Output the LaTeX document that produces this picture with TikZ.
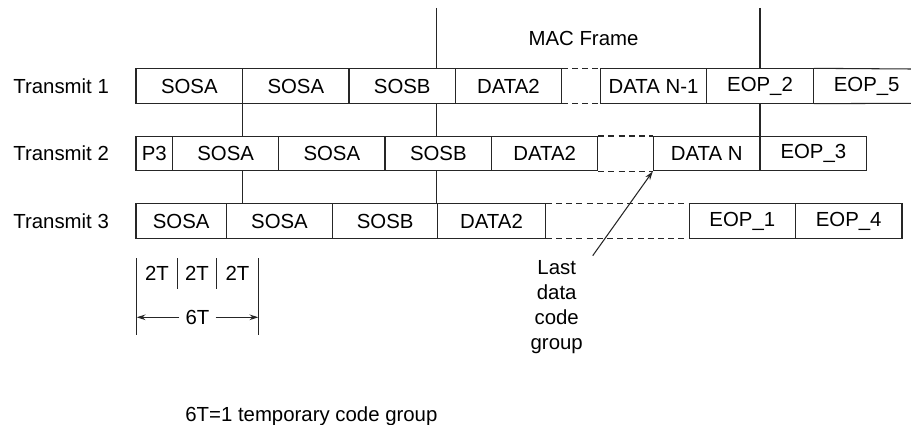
\documentclass[tikz,border=0pt]{standalone}
\usepackage{fontspec}
\setmainfont{Liberation Sans}
\usetikzlibrary{arrows.meta}

\newcommand{\lab}{\fontsize{11.6}{14.2}\selectfont}
% box from x1 to x2, centred at row y
\newcommand{\cell}[5]{\node[cell, minimum width={(#3-#2)*0.02cm}] (#1) at ({(#2+#3)/2}, #4) {#5};}

\tikzset{
  cell/.style={draw=black!85, line width=0.6pt, minimum height=0.686cm, inner sep=0pt},
  gapline/.style={draw=black!85, line width=0.6pt, dash pattern=on 3.4pt off 2.4pt},
  tick/.style={draw=black!85, line width=0.6pt},
  rowlabel/.style={anchor=west, inner sep=0pt},
  arr/.style={tick, -{Stealth[length=5pt, width=3.2pt]}},
}

\begin{document}
\begin{tikzpicture}[x=0.02cm, y=-0.02cm, font=\lab]
		%%%%% FRAME %%%%%
		\useasboundingbox (0,0) rectangle (911,425);
		\clip (0,0) rectangle (911,425);
		
		\node (mac) at (583.5,38.3) {MAC Frame};
		\draw[tick] (436.7,8) -- (436.7,69);
		\draw[tick] (760,8) -- (760,69);
		
		%%%%% TRANSMIT 1 %%%%%
		\node[rowlabel] (lab1) at (13,86) {Transmit 1};
		\cell{t1a}{136}{242.7}{86}{SOSA}
		\cell{t1b}{242.7}{349}{86}{SOSA}
		\cell{t1c}{349}{455.5}{86}{SOSB}
		\cell{t1d}{455.5}{561.3}{86}{DATA2}
		\cell{t1e}{600.3}{706.7}{86}{DATA N-1}
		\cell{t1f}{706.7}{813.3}{86}{EOP\_2}
		\node (t1g) at (866.7,86) {EOP\_5};
		\draw[tick] (t1f.north east) -- (911,69);
		\draw[tick] (t1f.south east) -- (911,103.3);
		\draw[gapline] (t1d.north east) -- (t1e.north west);
		\draw[gapline] (t1d.south east) -- (t1e.south west);
		
		\draw[tick] (242.7,103.3) -- (242.7,136.7);
		\draw[tick] (436.7,103.3) -- (436.7,136.7);
		\draw[tick] (760,103.3) -- (760,136.7);
		
		%%%%% TRANSMIT 2 %%%%%
		\node[rowlabel] (lab2) at (13,153.7) {Transmit 2};
		\cell{t2a}{136}{172.7}{153.7}{P3}
		\cell{t2b}{172.7}{278.7}{153.7}{SOSA}
		\cell{t2c}{278.7}{385}{153.7}{SOSA}
		\cell{t2d}{385}{491.7}{153.7}{SOSB}
		\cell{t2e}{491.7}{597.7}{153.7}{DATA2}
		\cell{t2f}{653.3}{760}{153.7}{DATA N}
		\cell{t2g}{760}{866.7}{153.7}{EOP\_3}
		\draw[gapline] (t2e.north east) -- (t2f.north west);
		\draw[gapline] (t2e.south east) -- (t2f.south west);
		
		\draw[tick] (242.7,170.7) -- (242.7,204);
		\draw[tick] (436.7,170.7) -- (436.7,204);
		
		%%%%% TRANSMIT 3 %%%%%
		\node[rowlabel] (lab3) at (13,221) {Transmit 3};
		\cell{t3a}{136}{226.3}{221}{SOSA}
		\cell{t3b}{226.3}{332.7}{221}{SOSA}
		\cell{t3c}{332.7}{437.7}{221}{SOSB}
		\cell{t3d}{437.7}{545.3}{221}{DATA2}
		\cell{t3e}{689.3}{795.3}{221}{EOP\_1}
		\cell{t3f}{795.3}{902}{221}{EOP\_4}
		\draw[gapline] (t3d.north east) -- (t3e.north west);
		\draw[gapline] (t3d.south east) -- (t3e.south west);
		
		%%%%% LAST DATA %%%%%
		\node[align=center, inner sep=0pt] (last) at (556.7,307) {Last\\data\\code\\group};
		\coordinate (lastend) at (592.7,255.7);
		\draw[arr] (lastend) -- (t2f.south west);
		
		%%%%% 6T SCALE %%%%%
		\draw[tick] (136.7,258) -- (136.7,335);
		\draw[tick] (177.3,258) -- (177.3,289.3);
		\draw[tick] (216.7,258) -- (216.7,289.3);
		\draw[tick] (258.3,258) -- (258.3,335);
		\node (tt1) at (157,273.3) {2T};
		\node (tt2) at (197,273.3) {2T};
		\node (tt3) at (237.5,273.3) {2T};
		\node (six) at (197.5,317.3) {6T};
		\draw[arr] (six) -- (136.7,317.3);
		\draw[arr] (six) -- (258.3,317.3);
		
		\node[anchor=base west, inner sep=0pt] (note) at (185,421.5) {6T=1 temporary code group};
		
		%%%%% END %%%%%
\end{tikzpicture}
\end{document}
